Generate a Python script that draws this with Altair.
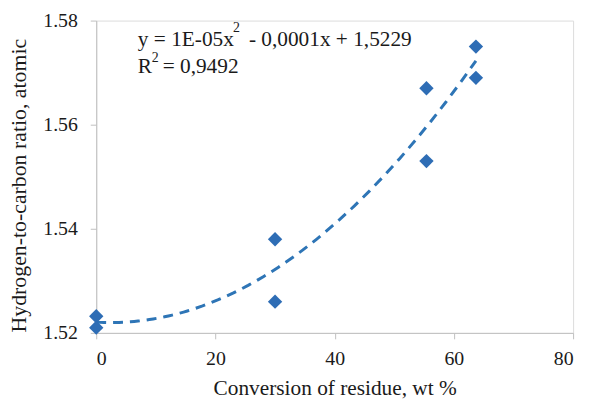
import altair as alt
import pandas as pd

# Data
conversion = [0, 0, 30, 30, 55.4, 55.4, 63.7, 63.7]
hc_ratio = [1.5232, 1.521, 1.538, 1.526, 1.567, 1.553, 1.575, 1.569]
x_ticks = [0, 20, 40, 60, 80]
y_ticks = [1.52, 1.54, 1.56, 1.58]
eq_line1_a = "y = 1E-05x"
eq_sup = "2"
eq_line1_b = "- 0,0001x + 1,5229"
eq_line2_a = "R"
eq_line2_b = "= 0,9492"

df = pd.DataFrame({"conv": conversion, "hc": hc_ratio})

FONT = "Liberation Serif"
PT_COLOR = "#2E6DB5"
LINE_COLOR = "#2E75B6"
TXT = "#1a1a1a"

xscale = alt.Scale(domain=[0, 80], nice=False, zero=False)
yscale = alt.Scale(domain=[1.52, 1.58], nice=False, zero=False)

xaxis = alt.Axis(values=x_ticks, title="Conversion of residue, wt %", grid=False,
                 domainColor="#BFBFBF", tickColor="#BFBFBF", tickSize=6,
                 labelFont=FONT, labelFontSize=20, labelColor=TXT, labelPadding=10,
                 titleFont=FONT, titleFontSize=21.5, titleFontWeight="normal",
                 titleColor=TXT, titleY=62, titleBaseline="alphabetic")
yaxis = alt.Axis(values=y_ticks, format=".2f", title="Hydrogen-to-carbon ratio, atomic",
                 grid=False, domainColor="#BFBFBF", tickColor="#BFBFBF", tickSize=6,
                 labelFont=FONT, labelFontSize=20, labelColor=TXT, labelPadding=13,
                 titleFont=FONT, titleFontSize=22, titleFontWeight="normal",
                 titleColor=TXT, titleX=-71, titleY=166, titleBaseline="alphabetic")

base = alt.Chart(df)

trend = base.transform_regression("conv", "hc", method="poly", order=2).mark_line(
    color=LINE_COLOR, strokeWidth=3, strokeDash=[10, 7], clip=True
).encode(
    x=alt.X("conv:Q", scale=xscale, axis=xaxis),
    y=alt.Y("hc:Q", scale=yscale, axis=yaxis),
)

points = base.mark_point(shape="diamond", filled=True, size=210, color=PT_COLOR, opacity=1).encode(
    x=alt.X("conv:Q", scale=xscale),
    y=alt.Y("hc:Q", scale=yscale),
)

one = pd.DataFrame({"d": [0]})

def txt(s, x, y, size=21.5):
    return alt.Chart(one).mark_text(
        text=s, font=FONT, fontSize=size, align="left", baseline="alphabetic", color=TXT
    ).encode(x=alt.value(x), y=alt.value(y))

texts = [
    txt(eq_line1_a, 42, 26),
    txt(eq_sup, 138, 12, 14),
    txt(eq_line1_b, 154, 26),
    txt(eq_line2_a, 42, 53),
    txt(eq_sup, 56, 42, 14),
    txt(eq_line2_b, 67, 53),
]

chart = alt.layer(trend, points, *texts).properties(
    width=481, height=315,
    autosize=alt.AutoSizeParams(type="none"),
    padding={"left": 89, "top": 11, "right": 10, "bottom": 66},
).configure_view(stroke=None).configure(background="white", font=FONT).configure_axis(
    labelFont=FONT, titleFont=FONT
)

chart.save("out.html", embed_options={"renderer": "svg", "actions": False})
